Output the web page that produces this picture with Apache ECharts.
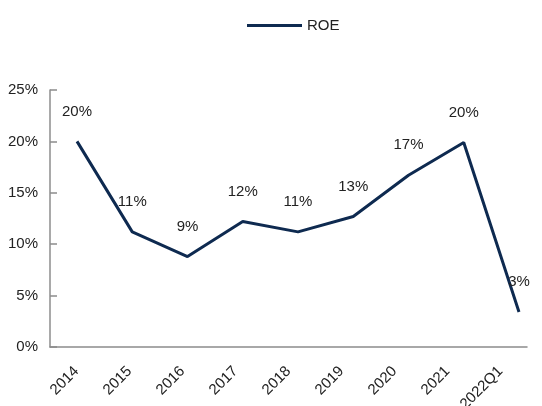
<!DOCTYPE html>
<html><head><meta charset="utf-8">
<script src="https://cdn.jsdelivr.net/npm/echarts@6/dist/echarts.min.js"></script>
<style>html,body{margin:0;padding:0;background:#fff}#c{width:542px;height:406px}</style>
</head><body><div id="c"></div>
<script>
const categories = ['2014','2015','2016','2017','2018','2019','2020','2021','2022Q1'];
const roe = [20.0, 11.2, 8.8, 12.2, 11.2, 12.7, 16.7, 19.9, 3.4];
const roeLabels = ['20%','11%','9%','12%','11%','13%','17%','20%','3%'];
const yTicks = [0, 5, 10, 15, 20, 25];

const chart = echarts.init(document.getElementById('c'));
const font = 'Liberation Sans, Arial, sans-serif';
const navy = '#0e2a50';
chart.setOption({
  animation: false,
  legend: {
    top: 13, left: 242,
    itemWidth: 55, itemHeight: 3, itemGap: 5,
    icon: 'rect',
    itemStyle: { color: navy, opacity: 1 },
    textStyle: { fontSize: 15, color: '#222', fontFamily: font },
    data: ['ROE']
  },
  grid: { left: 50, right: 15, top: 90, bottom: 59, outerBoundsMode: 'none', containLabel: false },
  xAxis: [{
    type: 'category', data: categories, boundaryGap: true,
    axisLine: { lineStyle: { color: '#8c8c8c', width: 1.5 } },
    axisTick: { inside: true, length: 6, lineStyle: { color: '#8c8c8c', width: 1.5 } },
    axisLabel: { rotate: 45, margin: 22, fontSize: 15, color: '#222', fontFamily: font }
  }, {
    type: 'value', min: -0.489, max: 8.145, show: false
  }],
  yAxis: {
    type: 'value', min: yTicks[0], max: yTicks[yTicks.length-1], interval: 5,
    splitLine: { show: false },
    axisLine: { show: true, onZero: false, lineStyle: { color: '#8c8c8c', width: 1.5 } },
    axisTick: { show: true, inside: true, length: 7, lineStyle: { color: '#8c8c8c', width: 1.5 } },
    axisLabel: { formatter: '{value}%', fontSize: 15, color: '#222', fontFamily: font, margin: 12 }
  },
  series: [{
    name: 'ROE', type: 'line', xAxisIndex: 1,
    data: roe.map((v, i) => [i, v]),
    symbol: 'circle', symbolSize: 1, showSymbol: true,
    lineStyle: { color: navy, width: 3 },
    itemStyle: { color: 'rgba(0,0,0,0)', borderWidth: 0 },
    label: {
      show: true, position: 'top', distance: 22,
      fontSize: 15, color: '#222', fontFamily: font,
      formatter: p => roeLabels[p.dataIndex]
    }
  }]
});
</script></body></html>
